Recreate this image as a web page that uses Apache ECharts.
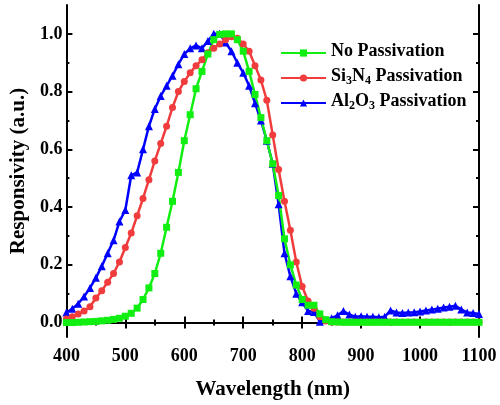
<!DOCTYPE html>
<html>
<head>
<meta charset="utf-8">
<script src="https://cdn.jsdelivr.net/npm/echarts@6/dist/echarts.min.js"></script>
<style>
  html, body { margin: 0; padding: 0; background: #fff; }
  #chart { width: 500px; height: 405px; }
</style>
</head>
<body>
<div id="chart"></div>
<script>
(function() {
  var wavelength = [
    400, 410, 420, 430, 440, 450, 460, 470, 480, 490,
    500, 510, 520, 530, 540, 550, 560, 570, 580, 590,
    600, 610, 620, 630, 640, 650, 660, 670, 680, 690,
    700, 710, 720, 730, 740, 750, 760, 770, 780, 790,
    800, 810, 820, 830, 840, 850, 860, 870, 880, 890,
    900, 910, 920, 930, 940, 950, 960, 970, 980, 990,
    1000, 1010, 1020, 1030, 1040, 1050, 1060, 1070, 1080, 1090,
    1100
  ];
  var noPassivation = [
    0.000, 0.000, 0.001, 0.002, 0.003, 0.004, 0.006, 0.008, 0.011, 0.015,
    0.022, 0.032, 0.050, 0.080, 0.120, 0.170, 0.240, 0.330, 0.420, 0.520,
    0.630, 0.720, 0.810, 0.870, 0.930, 0.980, 0.998, 1.000, 1.000, 0.980,
    0.940, 0.870, 0.790, 0.710, 0.630, 0.550, 0.440, 0.290, 0.200, 0.130,
    0.080, 0.060, 0.060, 0.030, 0.010, 0.003, 0.002, 0.001, 0.001, 0.001,
    0.001, 0.001, 0.001, 0.001, 0.001, 0.001, 0.001, 0.001, 0.001, 0.001,
    0.001, 0.001, 0.001, 0.001, 0.001, 0.001, 0.001, 0.001, 0.001, 0.001,
    0.001
  ];
  var si3n4 = [
    0.012, 0.020, 0.030, 0.040, 0.055, 0.085, 0.110, 0.140, 0.170, 0.210,
    0.260, 0.310, 0.370, 0.430, 0.495, 0.560, 0.620, 0.680, 0.745, 0.800,
    0.835, 0.865, 0.890, 0.910, 0.935, 0.950, 0.965, 0.980, 0.990, 0.985,
    0.965, 0.940, 0.890, 0.840, 0.770, 0.650, 0.530, 0.420, 0.320, 0.210,
    0.125, 0.075, 0.050, 0.020, 0.005, 0.002, 0.002, 0.002, 0.002, 0.002,
    0.002, 0.002, 0.002, 0.002, 0.002, 0.002, 0.002, 0.002, 0.002, 0.002,
    0.002, 0.002, 0.002, 0.002, 0.002, 0.002, 0.002, 0.002, 0.002, 0.002,
    0.002
  ];
  var al2o3 = [
    0.035, 0.048, 0.065, 0.090, 0.120, 0.155, 0.195, 0.240, 0.285, 0.350,
    0.390, 0.510, 0.520, 0.600, 0.680, 0.740, 0.785, 0.820, 0.855, 0.895,
    0.930, 0.950, 0.960, 0.950, 0.975, 1.000, 1.000, 0.970, 0.940, 0.900,
    0.865, 0.820, 0.760, 0.700, 0.630, 0.550, 0.410, 0.240, 0.160, 0.100,
    0.070, 0.040, 0.037, 0.003, 0.010, 0.015, 0.025, 0.040, 0.028, 0.020,
    0.022, 0.020, 0.020, 0.018, 0.020, 0.042, 0.035, 0.033, 0.035, 0.036,
    0.038, 0.042, 0.045, 0.048, 0.052, 0.055, 0.058, 0.045, 0.035, 0.033,
    0.030
  ];
  var yMajor = [0, 0.2, 0.4, 0.6, 0.8, 1.0];
  var yMinor = [0.1, 0.3, 0.5, 0.7, 0.9];
  var legendRich = {
    'No Passivation': '{t|No Passivation}',
    'Si3N4 Passivation': '{t|Si}{s|3}{t|N}{s|4}{t| Passivation}',
    'Al2O3 Passivation': '{t|Al}{s|2}{t|O}{s|3}{t| Passivation}'
  };

  function pairs(ys) {
    return wavelength.map(function(x, i) { return [x, ys[i]]; });
  }

  var font = "'Liberation Serif', 'Times New Roman', serif";
  var ink = '#000';

  function yAxisDef(pos, values, len, withLine, withLabel) {
    return {
      type: 'value', position: pos, min: -0.05, max: 1.1,
      axisLine: { show: withLine, lineStyle: { color: ink, width: 2 } },
      axisTick: { show: true, inside: true, length: len, customValues: values, lineStyle: { color: ink, width: 2 } },
      axisLabel: withLabel ? {
        show: true, customValues: values, margin: 4, color: ink,
        fontFamily: font, fontWeight: 'bold', fontSize: 18,
        formatter: function(v) { return v.toFixed(1); }
      } : { show: false },
      splitLine: { show: false }
    };
  }

  var chart = echarts.init(document.getElementById('chart'), null, { renderer: 'canvas' });
  chart.setOption({
    animation: false,
    backgroundColor: '#fff',
    grid: { left: 66, right: 21, top: 5, bottom: 67, containLabel: false },
    legend: {
      orient: 'vertical', left: 275, top: 37,
      itemWidth: 45, itemHeight: 9, itemGap: 3,
      data: ['No Passivation', 'Si3N4 Passivation', 'Al2O3 Passivation'],
      formatter: function(name) { return legendRich[name]; },
      textStyle: {
        rich: {
          t: { fontFamily: font, fontWeight: 'bold', fontSize: 18, color: ink, lineHeight: 18, padding: [0, 0, 4, 0] },
          s: { fontFamily: font, fontWeight: 'bold', fontSize: 12, color: ink, lineHeight: 12, verticalAlign: 'bottom' }
        }
      }
    },
    xAxis: [{
      type: 'value', position: 'bottom', min: 400, max: 1100, interval: 100,
      name: 'Wavelength (nm)', nameLocation: 'middle', nameGap: 42,
      nameTextStyle: { fontFamily: font, fontWeight: 'bold', fontSize: 21, color: ink },
      axisLine: { lineStyle: { color: ink, width: 2 } },
      axisTick: { inside: true, length: 6, lineStyle: { color: ink, width: 2 } },
      minorTick: { show: true, splitNumber: 2, length: 3, lineStyle: { color: ink, width: 2 } },
      axisLabel: {
        margin: 10, color: ink, fontFamily: font, fontWeight: 'bold', fontSize: 18,
        formatter: function(v) { return String(v); }
      },
      splitLine: { show: false }
    }, {
      type: 'value', position: 'top', min: 400, max: 1100, interval: 100,
      axisLine: { lineStyle: { color: ink, width: 2 } },
      axisTick: { inside: true, length: 6, lineStyle: { color: ink, width: 2 } },
      minorTick: { show: true, splitNumber: 2, length: 3, lineStyle: { color: ink, width: 2 } },
      axisLabel: { show: false },
      splitLine: { show: false }
    }],
    yAxis: [
      Object.assign(yAxisDef('left', yMajor, 6, true, true), {
        name: 'Responsivity (a.u.)', nameLocation: 'middle', nameGap: 33,
        nameTextStyle: { fontFamily: font, fontWeight: 'bold', fontSize: 21, color: ink }
      }),
      yAxisDef('left', yMinor, 3, false, false),
      yAxisDef('right', yMajor, 6, true, false),
      yAxisDef('right', yMinor, 3, false, false)
    ],
    series: [{
      name: 'Al2O3 Passivation', type: 'line', data: pairs(al2o3),
      symbol: 'triangle', symbolSize: 8,
      lineStyle: { color: '#0000ff', width: 2.5 },
      itemStyle: { color: '#0000ff' }
    }, {
      name: 'Si3N4 Passivation', type: 'line', data: pairs(si3n4),
      symbol: 'circle', symbolSize: 7,
      lineStyle: { color: '#f03c3c', width: 2.5 },
      itemStyle: { color: '#f03c3c' }
    }, {
      name: 'No Passivation', type: 'line', data: pairs(noPassivation),
      symbol: 'rect', symbolSize: 7,
      lineStyle: { color: '#11ee11', width: 2.5 },
      itemStyle: { color: '#11ee11' }
    }]
  });
})();
</script>
</body>
</html>
